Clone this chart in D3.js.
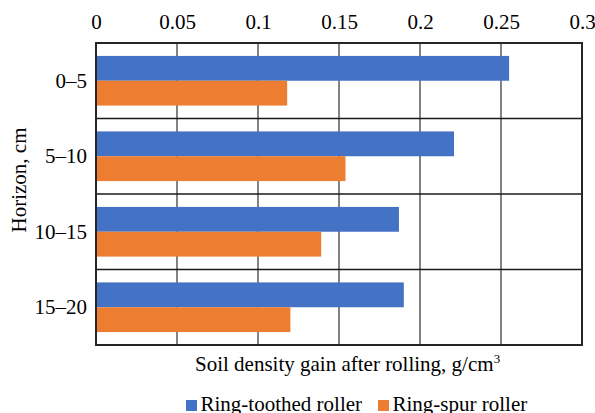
<!DOCTYPE html>
<html>
<head>
<meta charset="utf-8">
<script src="https://cdn.jsdelivr.net/npm/d3@7"></script>
<style>
  html, body { margin: 0; padding: 0; background: #fff; }
  svg text { font-family: "Liberation Serif", "Times New Roman", serif; fill: #000; }
</style>
</head>
<body>
<svg id="chart" width="595" height="413"></svg>
<script>
const categories = ["0–5", "5–10", "10–15", "15–20"];
const seriesNames = ["Ring-toothed roller", "Ring-spur roller"];
const ringToothed = [0.255, 0.221, 0.187, 0.190];
const ringSpur = [0.118, 0.154, 0.139, 0.120];
const xTicks = [0, 0.05, 0.1, 0.15, 0.2, 0.25, 0.3];
const colors = ["#4472C4", "#ED7D31"];

const FS = 21;
const FONT = '"Liberation Serif", "Times New Roman", serif';
const svg = d3.select("#chart");
const margin = { left: 96, right: 13, top: 43, bottom: 68 };
const W = 595, H = 413;
const x0 = margin.left, x1 = W - margin.right, y0 = margin.top, y1 = H - margin.bottom;

const x = d3.scaleLinear().domain([0, 0.3]).range([x0, x1]);
const y = d3.scaleBand().domain(categories).range([y0, y1]).paddingInner(0).paddingOuter(0);
const inner = d3.scaleBand().domain(seriesNames).range([0, y.bandwidth()]).paddingInner(0).paddingOuter(0.52);

// vertical gridlines
svg.append("g").selectAll("line").data(xTicks.slice(1, -1)).join("line")
  .attr("x1", d => x(d)).attr("x2", d => x(d))
  .attr("y1", y0).attr("y2", y1)
  .attr("stroke", "#595959").attr("stroke-width", 1.5);

// horizontal separators
svg.append("g").selectAll("line").data(categories.slice(1)).join("line")
  .attr("x1", x0).attr("x2", x1)
  .attr("y1", d => y(d)).attr("y2", d => y(d))
  .attr("stroke", "#1a1a1a").attr("stroke-width", 1.5);

// bars
const data = categories.map((c, i) => ({ c, vals: [ringToothed[i], ringSpur[i]] }));
const groups = svg.append("g").selectAll("g").data(data).join("g")
  .attr("transform", d => `translate(0,${y(d.c)})`);
groups.selectAll("rect").data(d => d.vals.map((v, j) => ({ v, s: seriesNames[j], j }))).join("rect")
  .attr("x", x(0))
  .attr("y", d => inner(d.s))
  .attr("width", d => x(d.v) - x(0))
  .attr("height", inner.bandwidth())
  .attr("fill", d => colors[d.j]);

// border
svg.append("rect").attr("x", x0).attr("y", y0).attr("width", x1 - x0).attr("height", y1 - y0)
  .attr("fill", "none").attr("stroke", "#262626").attr("stroke-width", 2);

// top axis labels
const xAxis = d3.axisTop(x).tickValues(xTicks).tickSize(0).tickPadding(0)
  .tickFormat(d => String(+d.toFixed(2)));
const gx = svg.append("g").attr("transform", `translate(0,${y0})`).call(xAxis);
gx.attr("font-family", FONT);
gx.select(".domain").remove();
gx.selectAll("text").attr("font-size", FS).attr("y", -14).attr("dy", 0).attr("fill", "#000");

// y axis labels
const yAxis = d3.axisLeft(y).tickSize(0).tickPadding(9);
const gy = svg.append("g").attr("transform", `translate(${x0},0)`).call(yAxis);
gy.attr("font-family", FONT);
gy.select(".domain").remove();
gy.selectAll("text").attr("font-size", FS).attr("dy", "0.33em").attr("fill", "#000");

// axis titles
const xt = svg.append("text").attr("x", 195).attr("y", 371)
  .attr("text-anchor", "start").attr("font-size", FS);
xt.append("tspan").text("Soil density gain after rolling, g/cm");
xt.append("tspan").text("3").attr("font-size", 13).attr("dy", -8);

svg.append("text").attr("transform", `translate(26,180) rotate(-90)`)
  .attr("text-anchor", "middle").attr("font-size", FS).text("Horizon, cm");

// legend
const legend = svg.append("g").attr("transform", "translate(186,400)");
const items = [{ name: seriesNames[0], c: colors[0], dx: 0 }, { name: seriesNames[1], c: colors[1], dx: 192 }];
items.forEach(it => {
  const g = legend.append("g").attr("transform", `translate(${it.dx},0)`);
  g.append("rect").attr("width", 11).attr("height", 11).attr("fill", it.c);
  g.append("text").attr("x", 14.5).attr("y", 11).attr("font-size", FS).text(it.name);
});
</script>
</body>
</html>
